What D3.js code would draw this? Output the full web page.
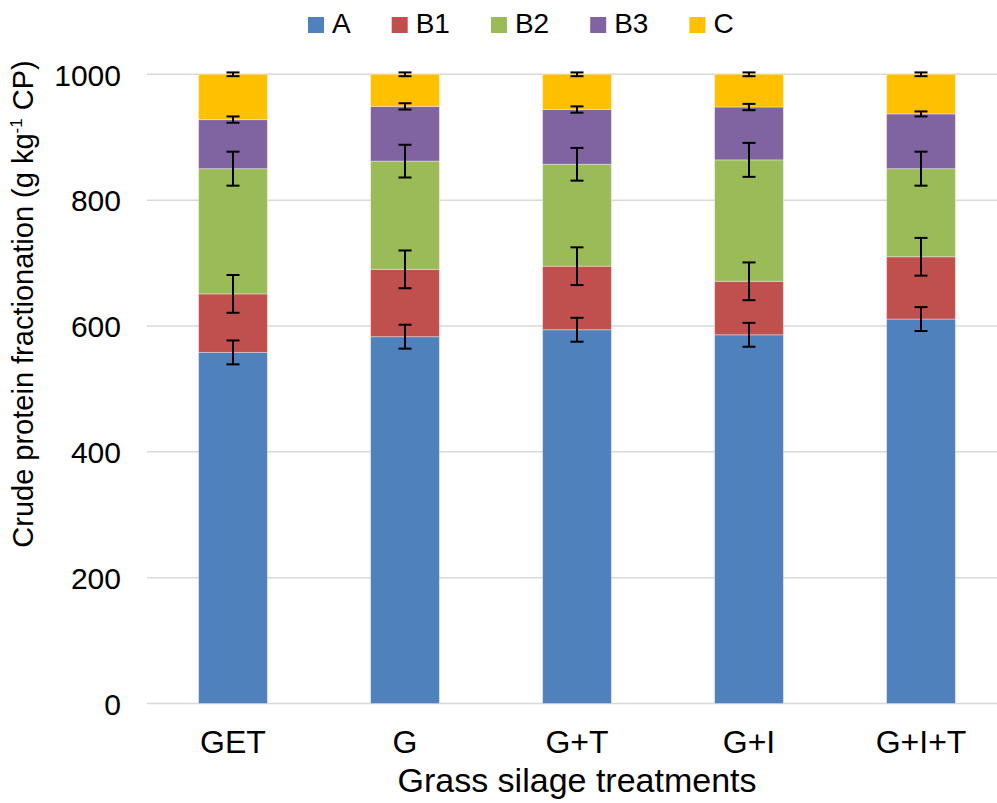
<!DOCTYPE html>
<html>
<head>
<meta charset="utf-8">
<script src="https://cdn.jsdelivr.net/npm/d3@7"></script>
<style>
  html, body { margin: 0; padding: 0; background: #fff; }
  svg { display: block; font-family: "Liberation Sans", Arial, sans-serif; }
</style>
</head>
<body>
<svg id="chart" width="997" height="803"></svg>
<script>
// Crude protein fractions (g/kg CP) per grass silage treatment
const treatments = ["GET", "G", "G+T", "G+I", "G+I+T"];
const fractions = ["A", "B1", "B2", "B3", "C"];

const valuesA  = [558, 583, 594, 586, 611];
const valuesB1 = [93, 107, 101, 85, 99];
const valuesB2 = [199, 172, 162, 193, 140];
const valuesB3 = [78, 87, 87, 84, 87];
const valuesC  = [72, 51, 56, 52, 63];

// standard errors for each fraction
const errA  = [19, 19, 19, 19, 19];
const errB1 = [30, 30, 30, 30, 30];
const errB2 = [27, 26, 26, 27, 27];
const errB3 = [5, 5, 5, 5, 4];
const errC  = [3, 3, 3, 3, 3];

const yTicks = [0, 200, 400, 600, 800, 1000];

const colors = {A: "#4F81BD", B1: "#C0504D", B2: "#9BBB59", B3: "#8064A2", C: "#FFC000"};
const seriesValues = {A: valuesA, B1: valuesB1, B2: valuesB2, B3: valuesB3, C: valuesC};
const seriesErrors = {A: errA, B1: errB1, B2: errB2, B3: errB3, C: errC};

const rows = treatments.map((t, i) => {
  const r = {treatment: t};
  fractions.forEach(f => { r[f] = seriesValues[f][i]; });
  return r;
});

const svg = d3.select("#chart");

const x = d3.scaleBand().domain(treatments).range([147, 1007]).paddingInner(0.6).paddingOuter(0.3);
const y = d3.scaleLinear().domain([0, 1000]).range([703.5, 74.3]);

// gridlines
svg.append("g").selectAll("line").data(yTicks).join("line")
  .attr("x1", 147).attr("x2", 1007)
  .attr("y1", d => y(d)).attr("y2", d => y(d))
  .attr("stroke", "#D9D9D9").attr("stroke-width", 1.5);

// y tick labels
const yAxis = d3.axisLeft(y).tickValues(yTicks).tickFormat(d3.format("d")).tickSize(0).tickPadding(0);
const gy = svg.append("g").attr("transform", "translate(121,0)").call(yAxis);
gy.select(".domain").remove();
gy.selectAll("text").attr("font-size", 30).attr("fill", "#000")
  .attr("font-family", "Liberation Sans, Arial, sans-serif").attr("dy", "0.36em");

// stacked bars
const stack = d3.stack().keys(fractions);
const layers = stack(rows);

const barG = svg.append("g");
layers.forEach(layer => {
  barG.append("g").attr("fill", colors[layer.key])
    .selectAll("rect").data(layer).join("rect")
    .attr("x", d => x(d.data.treatment))
    .attr("width", x.bandwidth())
    .attr("y", d => y(d[1]))
    .attr("height", d => y(d[0]) - y(d[1]))
    .attr("stroke", "rgba(255,255,255,0.35)")
    .attr("stroke-width", 1);
});

// error bars at the top of each segment
const errG = svg.append("g").attr("stroke", "#000").attr("stroke-width", 2);
const cap = 6.5;
layers.forEach(layer => {
  const errs = seriesErrors[layer.key];
  layer.forEach((d, i) => {
    const cx = x(d.data.treatment) + x.bandwidth() / 2;
    const top = y(d[1] + errs[i]);
    const bot = y(d[1] - errs[i]);
    errG.append("line").attr("x1", cx).attr("x2", cx).attr("y1", top).attr("y2", bot);
    errG.append("line").attr("x1", cx - cap).attr("x2", cx + cap).attr("y1", top).attr("y2", top);
    errG.append("line").attr("x1", cx - cap).attr("x2", cx + cap).attr("y1", bot).attr("y2", bot);
  });
});

// x tick labels
const xAxis = d3.axisBottom(x).tickSize(0).tickPadding(0);
const gx = svg.append("g").attr("transform", "translate(0,752.7)").call(xAxis);
gx.select(".domain").remove();
gx.selectAll("text").attr("font-size", 32).attr("fill", "#000")
  .attr("font-family", "Liberation Sans, Arial, sans-serif").attr("dy", 0)
  .attr("y", 0);

// axis titles
svg.append("text")
  .attr("x", 577).attr("y", 792)
  .attr("text-anchor", "middle").attr("font-size", 34).attr("fill", "#000")
  .text("Grass silage treatments");

const yt = svg.append("text")
  .attr("transform", "translate(33,304) rotate(-90)")
  .attr("text-anchor", "middle").attr("font-size", 29).attr("fill", "#000");
yt.append("tspan").text("Crude protein fractionation (g kg");
yt.append("tspan").attr("font-size", 17).attr("dy", -11).text("-1");
yt.append("tspan").attr("dy", 11).text(" CP)");

// legend
const legend = svg.append("g");
let lx = 308;
fractions.forEach(f => {
  legend.append("rect").attr("x", lx).attr("y", 17).attr("width", 16).attr("height", 16)
    .attr("fill", colors[f]);
  const t = legend.append("text").attr("x", lx + 24).attr("y", 33.3)
    .attr("font-size", 28).attr("fill", "#000").text(f);
  lx += 24 + t.node().getComputedTextLength() + 41;
});
</script>
</body>
</html>
